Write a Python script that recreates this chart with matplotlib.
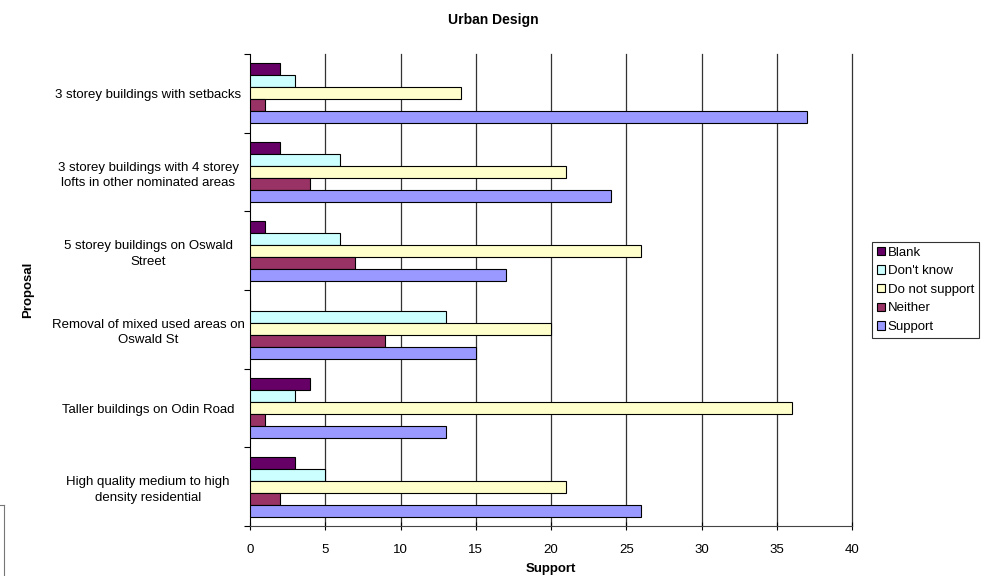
import matplotlib
matplotlib.use("Agg")
import matplotlib.pyplot as plt
import numpy as np
from matplotlib.lines import Line2D

plt.rcParams['font.family'] = ['Liberation Sans', 'DejaVu Sans']

categories = [
    "3 storey buildings with setbacks",
    "3 storey buildings with 4 storey\nlofts in other nominated areas",
    "5 storey buildings on Oswald\nStreet",
    "Removal of mixed used areas on\nOswald St",
    "Taller buildings on Odin Road",
    "High quality medium to high\ndensity residential",
]
series_names = ["Blank", "Don't know", "Do not support", "Neither", "Support"]
blank = [2, 2, 1, 0, 4, 3]
dont_know = [3, 6, 6, 13, 3, 5]
do_not_support = [14, 21, 26, 20, 36, 21]
neither = [1, 4, 7, 9, 1, 2]
support = [37, 24, 17, 15, 13, 26]
x_ticks = [0, 5, 10, 15, 20, 25, 30, 35, 40]

series_values = [blank, dont_know, do_not_support, neither, support]
colors = ["#660066", "#CCFFFF", "#FFFFCC", "#993366", "#9999FF"]

fig = plt.figure(figsize=(9.86, 5.76), dpi=100)
ax = fig.add_axes([250 / 986, 1 - 526 / 576, 602 / 986, 472 / 576])

n_cat = len(categories)
centers = np.arange(n_cat)[::-1].astype(float)  # first category at top
bar_h = 0.152
offsets = (np.arange(5) - 2) * bar_h  # Blank at top of group

for i, (name, vals, c) in enumerate(zip(series_names, series_values, colors)):
    ax.barh(centers - offsets[i], vals, height=bar_h, color=c,
            edgecolor="black", linewidth=0.8, label=name, zorder=3)

ax.set_xlim(0, 40)
ax.set_ylim(-0.5, n_cat - 0.5)
ax.set_xticks(x_ticks)
ax.set_xticklabels([str(t) for t in x_ticks], fontsize=9.5)
ax.set_yticks(centers)
ax.set_yticklabels(categories, fontsize=9.5, ha="center",
                   multialignment="center", linespacing=1.38)
ax.tick_params(axis="y", length=0, pad=73.4)
ax.set_yticks(np.arange(n_cat + 1) - 0.5, minor=True)
ax.tick_params(axis="y", which="minor", length=4, direction="out", width=0.8)
ax.tick_params(axis="x", length=6, direction="inout", width=0.8, pad=10)

# vertical gridlines, including the one at the right edge
for t in x_ticks[1:]:
    ax.axvline(t, color="#333333", linewidth=0.9, zorder=0, clip_on=False)
for s in ["top", "right"]:
    ax.spines[s].set_visible(False)
ax.spines["left"].set_linewidth(0.8)
ax.spines["bottom"].set_linewidth(0.8)
ax.spines["bottom"].set_color("#444444")

ax.set_xlabel("Support", fontsize=9.5, fontweight="bold", labelpad=5)
fig.text(28 / 986, 1 - 290 / 576, "Proposal", rotation=90, fontsize=9.5,
         fontweight="bold", ha="center", va="center")
fig.text(0.5, 1 - 20 / 576, "Urban Design", fontsize=10, fontweight="bold",
         ha="center", va="center")

leg = fig.legend(loc="upper left", bbox_to_anchor=(872 / 986, 1 - 242 / 576),
                 fontsize=9.5, frameon=True, fancybox=False, handlelength=0.6,
                 handleheight=0.6, handletextpad=0.25, borderpad=0.35,
                 labelspacing=0.5, borderaxespad=0)
leg.get_frame().set_edgecolor("black")
leg.get_frame().set_linewidth(0.8)

# partial frame in the lower left corner
fig.add_artist(Line2D([0, 4 / 986], [1 - 505 / 576, 1 - 505 / 576],
                      transform=fig.transFigure, color="#777777", linewidth=0.8))
fig.add_artist(Line2D([4 / 986, 4 / 986], [1 - 505 / 576, 0],
                      transform=fig.transFigure, color="#777777", linewidth=0.8))

fig.savefig("out.png", dpi=100)
